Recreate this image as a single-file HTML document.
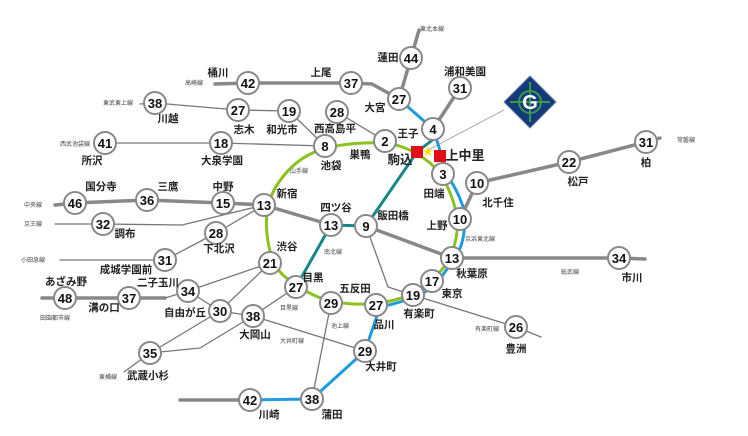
<!DOCTYPE html>
<html><head><meta charset="utf-8"><style>
html,body{margin:0;padding:0;background:#fff;}
svg{display:block;}
text{font-family:"Liberation Sans","Noto Sans CJK JP",sans-serif;fill:#111;}
.n{font-size:13px;font-weight:bold;text-anchor:middle;}
.s{font-size:10.5px;text-anchor:middle;font-weight:bold;fill:#222;}
.l{font-size:6px;text-anchor:middle;fill:#444;}
</style></head><body>
<svg width="748" height="436" viewBox="0 0 748 436" xmlns="http://www.w3.org/2000/svg">
<g fill="none" stroke-linejoin="round" stroke-linecap="round">
<g stroke="#888" stroke-width="3.5">
<polyline points="215,84 248,83 351,83 372,84 399,99 411,58 419,30"/>
<polyline points="433,129 460,88"/>
<polyline points="55,205 75,203 147,200 223,203 264,205 331,225"/>
<polyline points="366,226 452,258 619,258 645,259"/>
<polyline points="460,219 477,183 569,162 646,142 660,138"/>
<polyline points="42,298 65,298 129,298 165,298"/>
</g>
<g stroke="#777" stroke-width="1.3">
<polyline points="140,104 155,103 238,110 289,111 325,146"/>
<polyline points="105,143 221,143 325,146"/>
<polyline points="337,112 385,141"/>
<polyline points="55,224 103,224 182,225 264,205"/>
<polyline points="60,260 165,260 216,233 264,205"/>
<polyline points="165,298 188,291 270,263"/>
<polyline points="188,291 220,311 270,263"/>
<polyline points="220,311 253,316 296,287"/>
<polyline points="253,316 365,351"/>
<polyline points="150,353 220,311"/>
<polyline points="150,353 200,348 253,316"/>
<polyline points="150,353 124,372"/>
<polyline points="331,303 312,399"/>
<polyline points="366,226 388,287 413,295 516,327 541,337"/>
<polyline points="428,150 504,110" stroke="#999" stroke-width="0.8"/>
</g>
<polyline points="440,134 417,152 366,226 331,225 296,287" stroke="#168888" stroke-width="3"/>
<path d="M399,99 L433,129 Q440,148 446,174 Q458,190 464,210 Q467,240 455,258 L437,283 Q425,293 416,297 Q395,304 380,307 L365,351 L312,399 L250,400" stroke="#1d9be0" stroke-width="3"/>
<path d="M355,143.5 Q385,141 401,146.5 Q417,152 430,163 Q443,174 451.5,196.5 Q460,219 456,238.5 Q452,258 442,269.5 Q432,281 422.5,288 Q413,295 394.5,300 Q376,305 353.5,304 Q331,303 313.5,295 Q296,287 283,275 Q270,263 267,234 Q264,205 277,185 Q290,165 307.5,155.5 Q325,146 355,143.5Z" stroke="#8cc21e" stroke-width="3"/>
<polyline points="180,400 250,400" stroke="#888" stroke-width="3.5"/>
</g>
<rect x="411" y="146" width="12" height="12" fill="#e01019"/>
<rect x="434" y="150" width="12" height="12" fill="#e01019"/>
<text x="428" y="155" style="font-size:11px;fill:#f5e000;text-anchor:middle">★</text>
<g transform="translate(530,102)">
<path d="M0,-26 Q10,-16 26,0 Q10,16 0,26 Q-10,16 -26,0 Q-10,-16 0,-26Z" fill="#143a7c" stroke="#6a7fa8" stroke-width="1"/>
<path d="M-20,0 H20 M0,-20 V20" stroke="#3a9a4a" stroke-width="2"/>
<circle cx="0" cy="0" r="11" fill="none" stroke="#3a9a4a" stroke-width="2"/>
<text x="0" y="7" style="font-size:20px;font-weight:bold;fill:#fff;text-anchor:middle">G</text>
</g>
<g fill="#fff" stroke="#888" stroke-width="2">
<circle cx="411" cy="58" r="11"/><circle cx="399" cy="99" r="11"/><circle cx="460" cy="88" r="11"/>
<circle cx="433" cy="129" r="11"/><circle cx="443" cy="174" r="11"/><circle cx="477" cy="183" r="11"/>
<circle cx="569" cy="162" r="11"/><circle cx="646" cy="142" r="11"/><circle cx="460" cy="219" r="11"/>
<circle cx="452" cy="258" r="11"/><circle cx="619" cy="258" r="11"/><circle cx="432" cy="281" r="11"/>
<circle cx="413" cy="295" r="11"/><circle cx="516" cy="327" r="11"/><circle cx="376" cy="305" r="11"/>
<circle cx="331" cy="303" r="11"/><circle cx="296" cy="287" r="11"/><circle cx="270" cy="263" r="11"/>
<circle cx="331" cy="225" r="11"/><circle cx="366" cy="226" r="11"/><circle cx="264" cy="205" r="11"/>
<circle cx="325" cy="146" r="11"/><circle cx="385" cy="141" r="11"/><circle cx="337" cy="112" r="11"/>
<circle cx="289" cy="111" r="11"/><circle cx="238" cy="110" r="11"/><circle cx="155" cy="103" r="11"/>
<circle cx="248" cy="83" r="11"/><circle cx="351" cy="83" r="11"/><circle cx="105" cy="143" r="11"/>
<circle cx="221" cy="143" r="11"/><circle cx="75" cy="203" r="11"/><circle cx="147" cy="200" r="11"/>
<circle cx="223" cy="203" r="11"/><circle cx="103" cy="224" r="11"/><circle cx="216" cy="233" r="11"/>
<circle cx="165" cy="260" r="11"/><circle cx="65" cy="298" r="11"/><circle cx="129" cy="298" r="11"/>
<circle cx="188" cy="291" r="11"/><circle cx="220" cy="311" r="11"/><circle cx="253" cy="316" r="11"/>
<circle cx="150" cy="353" r="11"/><circle cx="365" cy="351" r="11"/><circle cx="312" cy="399" r="11"/>
<circle cx="250" cy="400" r="11"/>
</g>
<g class="n">
<text x="411" y="63" class="n">44</text><text x="399" y="104" class="n">27</text><text x="460" y="93" class="n">31</text>
<text x="433" y="134" class="n">4</text><text x="443" y="179" class="n">3</text><text x="477" y="188" class="n">10</text>
<text x="569" y="167" class="n">22</text><text x="646" y="147" class="n">31</text><text x="460" y="224" class="n">10</text>
<text x="452" y="263" class="n">13</text><text x="619" y="263" class="n">34</text><text x="432" y="286" class="n">17</text>
<text x="413" y="300" class="n">19</text><text x="516" y="332" class="n">26</text><text x="376" y="310" class="n">27</text>
<text x="331" y="308" class="n">29</text><text x="296" y="292" class="n">27</text><text x="270" y="268" class="n">21</text>
<text x="331" y="230" class="n">13</text><text x="366" y="231" class="n">9</text><text x="264" y="210" class="n">13</text>
<text x="325" y="151" class="n">8</text><text x="385" y="146" class="n">2</text><text x="337" y="117" class="n">28</text>
<text x="289" y="116" class="n">19</text><text x="238" y="115" class="n">27</text><text x="155" y="108" class="n">38</text>
<text x="248" y="88" class="n">42</text><text x="351" y="88" class="n">37</text><text x="105" y="148" class="n">41</text>
<text x="221" y="148" class="n">18</text><text x="75" y="208" class="n">46</text><text x="147" y="205" class="n">36</text>
<text x="223" y="208" class="n">15</text><text x="103" y="229" class="n">32</text><text x="216" y="238" class="n">28</text>
<text x="165" y="265" class="n">31</text><text x="65" y="303" class="n">48</text><text x="129" y="303" class="n">37</text>
<text x="188" y="296" class="n">34</text><text x="220" y="316" class="n">30</text><text x="253" y="321" class="n">38</text>
<text x="150" y="358" class="n">35</text><text x="365" y="356" class="n">29</text><text x="312" y="404" class="n">38</text>
<text x="250" y="405" class="n">42</text>
</g>
<g class="s">
<text x="388" y="61" class="s">蓮田</text><text x="465" y="75" class="s">浦和美園</text><text x="375" y="111" class="s">大宮</text>
<text x="408" y="137" class="s">王子</text>
<text x="400" y="164" class="s" style="font-size:12.5px">駒込</text>
<text x="465" y="160" class="s" style="font-size:13px">上中里</text>
<text x="434" y="197" class="s">田端</text><text x="498" y="206" class="s">北千住</text><text x="578" y="185" class="s">松戸</text>
<text x="646" y="166" class="s">柏</text><text x="437" y="229" class="s">上野</text><text x="472" y="277" class="s">秋葉原</text>
<text x="632" y="281" class="s">市川</text><text x="452" y="297" class="s">東京</text><text x="419" y="317" class="s">有楽町</text>
<text x="384" y="328" class="s">品川</text><text x="516" y="352" class="s">豊洲</text><text x="381" y="370" class="s">大井町</text>
<text x="355" y="292" class="s">五反田</text><text x="313" y="281" class="s">目黒</text><text x="255" y="338" class="s">大岡山</text>
<text x="332" y="418" class="s">蒲田</text><text x="269" y="418" class="s">川崎</text><text x="148" y="379" class="s">武蔵小杉</text>
<text x="185" y="316" class="s">自由が丘</text><text x="158" y="286" class="s">二子玉川</text><text x="104" y="311" class="s">溝の口</text>
<text x="66" y="285" class="s">あざみ野</text><text x="126" y="273" class="s">成城学園前</text><text x="219" y="252" class="s">下北沢</text>
<text x="287" y="250" class="s">渋谷</text><text x="336" y="211" class="s">四ツ谷</text><text x="393" y="219" class="s">飯田橋</text>
<text x="287" y="197" class="s">新宿</text><text x="331" y="169" class="s">池袋</text><text x="360" y="158" class="s">巣鴨</text>
<text x="335" y="132" class="s">西高島平</text><text x="282" y="133" class="s">和光市</text><text x="244" y="133" class="s">志木</text>
<text x="168" y="122" class="s">川越</text><text x="218" y="76" class="s">桶川</text><text x="321" y="76" class="s">上尾</text>
<text x="92" y="164" class="s">所沢</text><text x="222" y="164" class="s">大泉学園</text><text x="101" y="190" class="s">国分寺</text>
<text x="168" y="190" class="s">三鷹</text><text x="223" y="190" class="s">中野</text><text x="125" y="237" class="s">調布</text>
</g>
<g class="l">
<text x="432" y="31" class="l">東北本線</text><text x="686" y="142" class="l">常磐線</text><text x="480" y="241" class="l">京浜東北線</text>
<text x="570" y="274" class="l">総武線</text><text x="487" y="331" class="l">有楽町線</text><text x="340" y="328" class="l">池上線</text>
<text x="292" y="343" class="l">大井町線</text><text x="289" y="310" class="l">目黒線</text><text x="108" y="379" class="l">東横線</text>
<text x="55" y="320" class="l">田園都市線</text><text x="33" y="262" class="l">小田急線</text><text x="333" y="254" class="l">南北線</text>
<text x="299" y="173" class="l">山手線</text><text x="118" y="105" class="l">東武東上線</text><text x="194" y="85" class="l">高崎線</text>
<text x="75" y="146" class="l">西武池袋線</text><text x="33" y="207" class="l">中央線</text><text x="33" y="226" class="l">京王線</text>
</g>
</svg>
</body></html>
